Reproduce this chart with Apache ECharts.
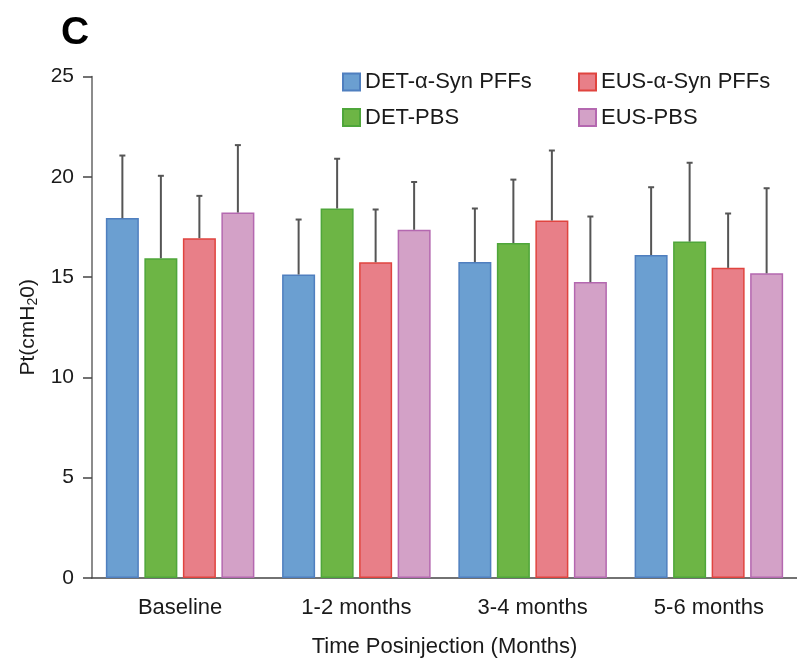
<!DOCTYPE html>
<html>
<head>
<meta charset="utf-8">
<script src="https://cdn.jsdelivr.net/npm/echarts@6/dist/echarts.min.js"></script>
<style>
  html, body { margin: 0; padding: 0; background: #fff; }
  #chart { width: 797px; height: 663px; }
</style>
</head>
<body>
<div id="chart"></div>
<script>
const categories = ["Baseline", "1-2 months", "3-4 months", "5-6 months"];
const seriesNames = ["DET-α-Syn PFFs", "DET-PBS", "EUS-α-Syn PFFs", "EUS-PBS"];

// means
const detPff = [17.94, 15.13, 15.75, 16.1];
const detPbs = [15.94, 18.42, 16.7, 16.77];
const eusPff = [16.94, 15.74, 17.82, 15.46];
const eusPbs = [18.22, 17.36, 14.75, 15.19];

// error (SD), drawn upward only
const detPffErr = [3.12, 2.74, 2.67, 3.38];
const detPbsErr = [4.11, 2.48, 3.16, 3.93];
const eusPffErr = [2.11, 2.63, 3.49, 2.71];
const eusPbsErr = [3.36, 2.38, 3.27, 4.24];

const yTicks = [0, 5, 10, 15, 20, 25];

const means = [detPff, detPbs, eusPff, eusPbs];
const errs = [detPffErr, detPbsErr, eusPffErr, eusPbsErr];
const fills = ["#6b9fd1", "#6db545", "#e87f88", "#d3a1c7"];
const borders = ["#4f7fbf", "#4fa63a", "#e0443f", "#b468b0"];

const font = "Liberation Sans, Arial, sans-serif";
const barW = 33;
const pitch = 38.5;

const chart = echarts.init(document.getElementById("chart"));

const bars = means.map((vals, i) => ({
    name: seriesNames[i],
    type: "bar",
    data: vals,
    barWidth: barW,
    barGap: "16.7%",
    itemStyle: { color: fills[i], borderColor: borders[i], borderWidth: 1.5 },
    z: 2,
}));

const errorBars = means.map((vals, i) => ({
    type: "custom",
    data: vals.map((v, k) => [k, v, v + errs[i][k]]),
    z: 5,
    silent: true,
    renderItem: function (params, api) {
        const lo = api.coord([api.value(0), api.value(1)]);
        const hi = api.coord([api.value(0), api.value(2)]);
        const x = lo[0] + (i - 1.5) * pitch;
        const style = { stroke: "#555", lineWidth: 2 };
        return {
            type: "group",
            children: [
                { type: "line", shape: { x1: x, y1: lo[1], x2: x, y2: hi[1] }, style: style },
                { type: "line", shape: { x1: x - 3, y1: hi[1], x2: x + 3, y2: hi[1] }, style: style },
            ],
        };
    },
}));

const legendCommon = {
    orient: "vertical",
    top: 66,
    icon: "rect",
    itemWidth: 17,
    itemHeight: 17,
    itemGap: 13.5,
    textStyle: { fontSize: 22, color: "#1a1a1a", fontFamily: font },
};

chart.setOption({
    backgroundColor: "#fff",
    animation: false,
    textStyle: { fontFamily: font },
    graphic: [{
        type: "text",
        left: 61,
        top: 14,
        style: { text: "C", font: "bold 39px " + font, fill: "#000" },
    }],
    legend: [
        Object.assign({ data: [seriesNames[0], seriesNames[1]], left: 337 }, legendCommon),
        Object.assign({ data: [seriesNames[2], seriesNames[3]], left: 573 }, legendCommon),
    ],
    grid: { left: 92, top: 76.5, width: 711, height: 504 },
    xAxis: {
        type: "category",
        data: categories,
        axisLine: { lineStyle: { color: "#444", width: 1.5 } },
        axisTick: { show: false },
        axisLabel: { fontSize: 22, color: "#1a1a1a", margin: 19, fontFamily: font },
        name: "Time Posinjection (Months)",
        nameLocation: "middle",
        nameGap: 58,
        nameTextStyle: { fontSize: 22, color: "#1a1a1a", fontFamily: font },
    },
    yAxis: {
        type: "value",
        min: yTicks[0],
        max: yTicks[yTicks.length - 1],
        interval: 5,
        splitLine: { show: false },
        axisLine: { show: true, lineStyle: { color: "#666", width: 1.5 } },
        axisTick: { show: true, length: 9, lineStyle: { color: "#444", width: 1.5 } },
        axisLabel: { fontSize: 21, color: "#1a1a1a", margin: 18, fontFamily: font },
        name: "{a|Pt(cmH}{s|2}{a|0)}",
        nameLocation: "middle",
        nameRotate: 90,
        nameGap: 41,
        nameTextStyle: {
            rich: {
                a: { fontSize: 21, color: "#1a1a1a", fontFamily: font },
                s: { fontSize: 14, color: "#1a1a1a", fontFamily: font, padding: [10, 0, 0, 0] },
            },
        },
    },
    series: bars.concat(errorBars),
});
</script>
</body>
</html>
